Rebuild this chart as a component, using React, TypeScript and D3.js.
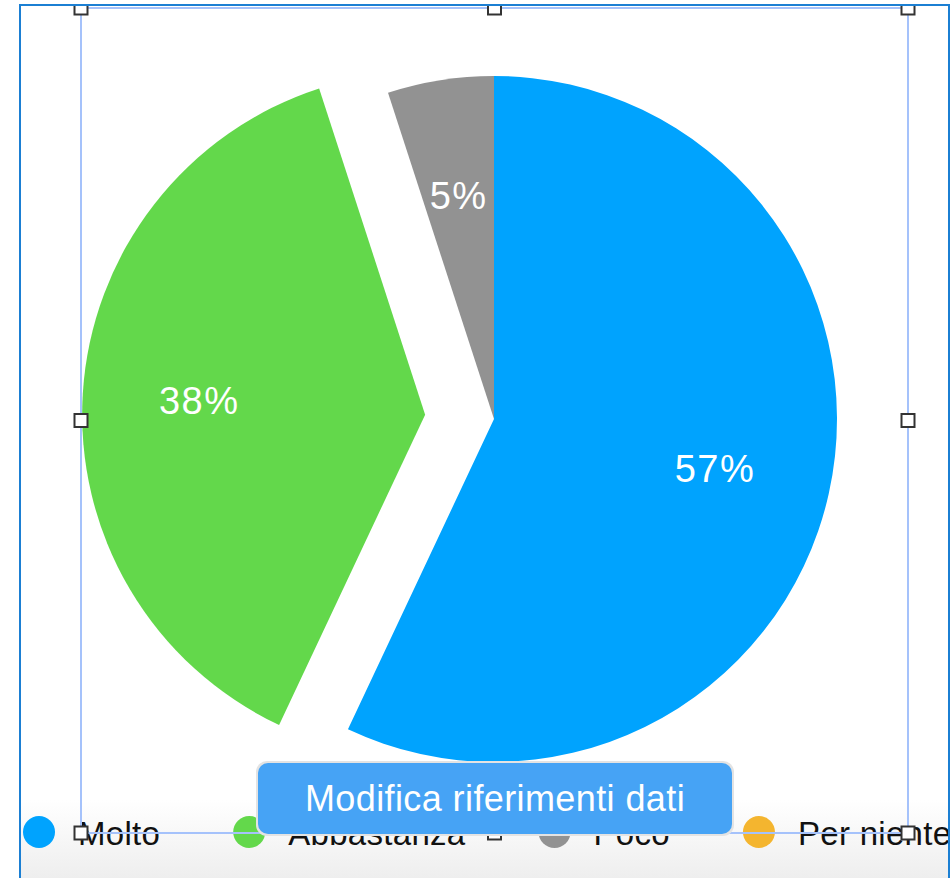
import React, { useEffect, useRef } from 'react';
import * as d3 from 'd3';

const categories = ['Molto', 'Abbastanza', 'Poco', 'Per niente'];
const values = [57, 38, 5, 0];
const colors = ['#00a3fe', '#63d84b', '#929292', '#f4b52f'];
const explodedCategory = 'Abbastanza';
const buttonLabel = 'Modifica riferimenti dati';

export default function App() {
  const ref = useRef<SVGSVGElement | null>(null);

  useEffect(() => {
    const W = 951;
    const H = 878;
    const svg = d3.select(ref.current);
    svg.selectAll('*').remove();

    const font = '"Liberation Sans", Arial, sans-serif';
    const cx = 494;
    const cy = 419;
    const radius = 343;
    const explode = 69;

    const defs = svg.append('defs');
    defs
      .append('clipPath')
      .attr('id', 'inner')
      .append('rect')
      .attr('x', 21)
      .attr('y', 6)
      .attr('width', 927)
      .attr('height', H - 6);
    const grad = defs
      .append('linearGradient')
      .attr('id', 'bottomBg')
      .attr('x1', 0)
      .attr('y1', 0)
      .attr('x2', 0)
      .attr('y2', 1);
    grad.append('stop').attr('offset', '0%').attr('stop-color', '#ffffff');
    grad.append('stop').attr('offset', '100%').attr('stop-color', '#eeeeee');

    svg.append('rect').attr('width', W).attr('height', H).attr('fill', '#fff');

    const root = svg.append('g').attr('clip-path', 'url(#inner)');

    // bottom band behind the legend
    root
      .append('rect')
      .attr('x', 0)
      .attr('y', 800)
      .attr('width', W)
      .attr('height', H - 800)
      .attr('fill', 'url(#bottomBg)');

    // pie
    const color = d3.scaleOrdinal<string, string>().domain(categories).range(colors);
    const pie = d3
      .pie<number>()
      .sort(null)
      .value((d) => d);
    const arcs = pie(values);
    const arc = d3.arc<d3.PieArcDatum<number>>().innerRadius(0).outerRadius(radius);
    const labelArc = d3
      .arc<d3.PieArcDatum<number>>()
      .innerRadius(radius * 0.66)
      .outerRadius(radius * 0.66);
    const total = d3.sum(values);

    const pieG = root.append('g').attr('transform', `translate(${cx},${cy})`);
    const slices = pieG
      .selectAll('g.slice')
      .data(arcs.filter((a) => a.value > 0))
      .enter()
      .append('g')
      .attr('class', 'slice')
      .attr('transform', (d) => {
        if (categories[d.index] !== explodedCategory) return null;
        const mid = (d.startAngle + d.endAngle) / 2;
        return `translate(${Math.sin(mid) * explode},${-Math.cos(mid) * explode})`;
      });

    slices
      .append('path')
      .attr('d', arc)
      .attr('fill', (d) => color(categories[d.index]));

    slices
      .append('text')
      .attr('transform', (d) => `translate(${labelArc.centroid(d)})`)
      .attr('dy', '0.36em')
      .attr('text-anchor', 'middle')
      .attr('fill', '#fff')
      .style('font-family', font)
      .style('font-size', '38px')
      .style('letter-spacing', '1.5px')
      .text((d) => `${Math.round((d.value / total) * 100)}%`);

    // legend
    const legend = root.append('g');
    let x = 39;
    categories.forEach((c) => {
      legend
        .append('circle')
        .attr('cx', x)
        .attr('cy', 832)
        .attr('r', 16)
        .attr('fill', color(c));
      const t = legend
        .append('text')
        .attr('x', x + 39)
        .attr('y', 845)
        .attr('fill', '#111')
        .style('font-family', font)
        .style('font-size', '33px')
        .style('letter-spacing', '0.3px')
        .text(c);
      const w = (t.node() as SVGTextElement).getComputedTextLength();
      x = x + 39 + w + 89;
    });

    // selection frame with handles
    const fx0 = 81;
    const fx1 = 908;
    const fy0 = 8;
    const fy1 = 833;
    root
      .append('rect')
      .attr('x', fx0)
      .attr('y', fy0)
      .attr('width', fx1 - fx0)
      .attr('height', fy1 - fy0)
      .attr('fill', 'none')
      .attr('stroke', '#a5c2fb')
      .attr('stroke-width', 2);

    const hx = [fx0, (fx0 + fx1) / 2, fx1];
    const hy = [fy0, (fy0 + fy1) / 2, fy1];
    const handles: [number, number][] = [];
    hy.forEach((yy, j) =>
      hx.forEach((xx, i) => {
        if (i === 1 && j === 1) return;
        handles.push([xx, yy]);
      })
    );
    root
      .selectAll('rect.handle')
      .data(handles)
      .enter()
      .append('rect')
      .attr('class', 'handle')
      .attr('x', (d) => d[0] - 6.5)
      .attr('y', (d) => d[1] - 6.5)
      .attr('width', 13)
      .attr('height', 13)
      .attr('fill', '#fff')
      .attr('stroke', '#333')
      .attr('stroke-width', 2);

    // button
    const btn = root.append('g');
    btn
      .append('rect')
      .attr('x', 256)
      .attr('y', 761)
      .attr('width', 478)
      .attr('height', 75)
      .attr('rx', 11)
      .attr('fill', '#e3e3e3');
    btn
      .append('rect')
      .attr('x', 258)
      .attr('y', 763)
      .attr('width', 474)
      .attr('height', 71)
      .attr('rx', 10)
      .attr('fill', '#46a3f5');
    btn
      .append('text')
      .attr('x', 495)
      .attr('y', 811)
      .attr('text-anchor', 'middle')
      .attr('fill', '#fff')
      .style('font-family', font)
      .style('font-size', '36px')
      .style('letter-spacing', '0.4px')
      .text(buttonLabel);

    // outer border
    svg
      .append('path')
      .attr('d', `M20,${H} V5 H949 V${H}`)
      .attr('fill', 'none')
      .attr('stroke', '#1b7fd3')
      .attr('stroke-width', 2);
  }, []);

  return (
    <svg
      ref={ref}
      width={951}
      height={878}
      style={{ position: 'absolute', left: 0, top: 0, display: 'block' }}
    />
  );
}
